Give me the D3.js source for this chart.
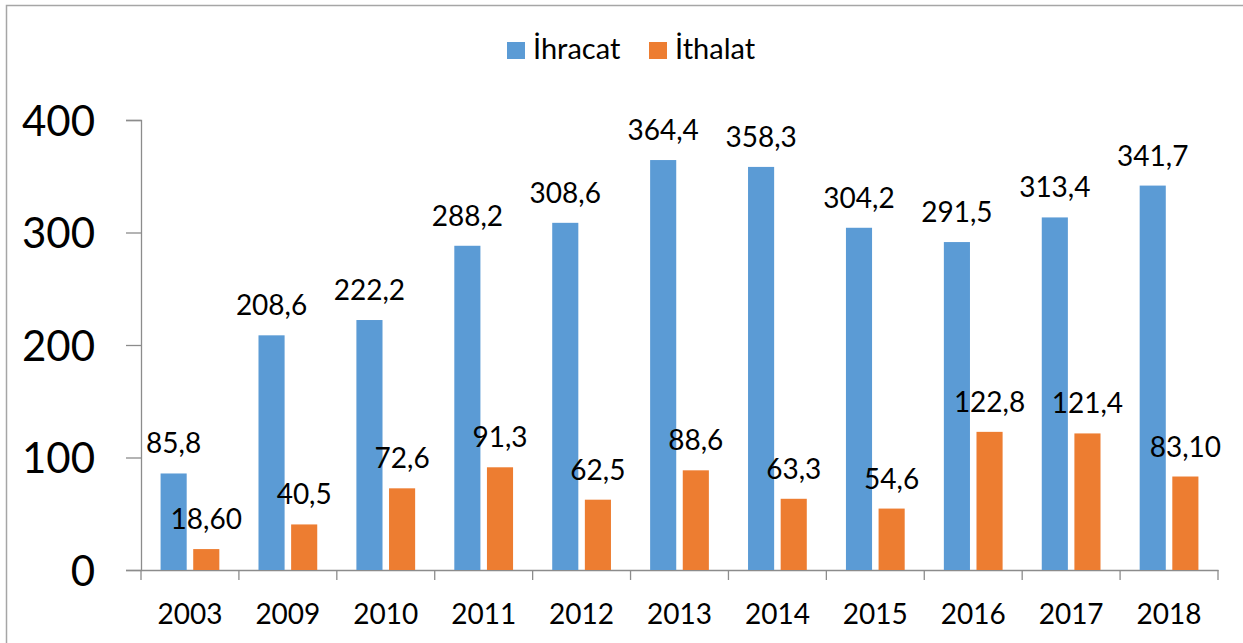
<!DOCTYPE html>
<html>
<head>
<meta charset="utf-8">
<script src="https://cdn.jsdelivr.net/npm/d3@7"></script>
<style>
  html, body { margin: 0; padding: 0; background: #fff; }
  svg { display: block; }
  text { font-family: Lato, "Open Sans", sans-serif; fill: #000; }
</style>
</head>
<body>
<svg id="chart" width="1243" height="643"></svg>
<script>
const years = ["2003","2009","2010","2011","2012","2013","2014","2015","2016","2017","2018"];
const ihracat = [85.8, 208.6, 222.2, 288.2, 308.6, 364.4, 358.3, 304.2, 291.5, 313.4, 341.7];
const ithalat = [18.6, 40.5, 72.6, 91.3, 62.5, 88.6, 63.3, 54.6, 122.8, 121.4, 83.1];
const ihracatLabels = ["85,8","208,6","222,2","288,2","308,6","364,4","358,3","304,2","291,5","313,4","341,7"];
const ithalatLabels = ["18,60","40,5","72,6","91,3","62,5","88,6","63,3","54,6","122,8","121,4","83,10"];
const seriesNames = ["İhracat", "İthalat"];
const colors = ["#5B9BD5", "#ED7D31"];
const yTicks = [0, 100, 200, 300, 400];

const svg = d3.select("#chart");

// frame
svg.append("rect").attr("x", 6.5).attr("y", 5.5).attr("width", 1300).attr("height", 700)
  .attr("fill", "none").attr("stroke", "#a6a6a6").attr("stroke-width", 1.5);

const x0 = d3.scaleBand().domain(years).range([141, 1218]).paddingInner(0).paddingOuter(0);
const x1 = d3.scaleBand().domain(seriesNames).range([0, x0.bandwidth()]).paddingInner(0.2).paddingOuter(0.6);
const y = d3.scaleLinear().domain([0, 400]).range([570, 120]);

const axisColor = "#8c8c8c";

// y axis
const yAxis = svg.append("g").attr("transform", "translate(141,0)")
  .call(d3.axisLeft(y).tickValues(yTicks).tickSize(15).tickPadding(31).tickFormat(d3.format("d")));
yAxis.select(".domain").attr("stroke", axisColor).attr("stroke-width", 1.3);
yAxis.selectAll(".tick line").attr("stroke", axisColor).attr("stroke-width", 1.3);
yAxis.selectAll(".tick text").attr("font-size", 42).attr("font-family", "Lato, sans-serif").attr("fill", "#000").attr("dy", "0.36em");

// x axis
const xAxis = svg.append("g").attr("transform", "translate(0,570)")
  .call(d3.axisBottom(x0).tickSize(0).tickPadding(34));
xAxis.select(".domain").attr("stroke", axisColor).attr("stroke-width", 1.3);
xAxis.selectAll(".tick text").attr("font-size", 28).attr("font-family", "Lato, sans-serif").attr("fill", "#000");
// boundary ticks
const bounds = years.map(d => x0(d)).concat([x0.range()[1]]);
xAxis.selectAll(".bt").data(bounds).enter().append("line")
  .attr("x1", d => d).attr("x2", d => d).attr("y1", 0).attr("y2", 10)
  .attr("stroke", axisColor).attr("stroke-width", 1.3);

const seriesData = [ihracat, ithalat];
const labelData = [ihracatLabels, ithalatLabels];

seriesNames.forEach((name, si) => {
  const g = svg.append("g");
  g.selectAll("rect").data(years).enter().append("rect")
    .attr("x", d => x0(d) + x1(name))
    .attr("width", x1.bandwidth())
    .attr("y", (d, i) => y(seriesData[si][i]))
    .attr("height", (d, i) => y(0) - y(seriesData[si][i]))
    .attr("fill", colors[si]);
  g.selectAll("text").data(years).enter().append("text")
    .attr("x", d => x0(d) + x1(name) + x1.bandwidth() / 2)
    .attr("y", (d, i) => y(seriesData[si][i]) - 20)
    .attr("text-anchor", "middle")
    .attr("font-size", 28)
    .text((d, i) => labelData[si][i]);
});

// legend
const legendX = [507, 649];
seriesNames.forEach((name, i) => {
  svg.append("rect").attr("x", legendX[i]).attr("y", 42).attr("width", 18).attr("height", 17).attr("fill", colors[i]);
  svg.append("text").attr("x", legendX[i] + 26).attr("y", 59).attr("font-size", 29).text(name);
});
</script>
</body>
</html>
